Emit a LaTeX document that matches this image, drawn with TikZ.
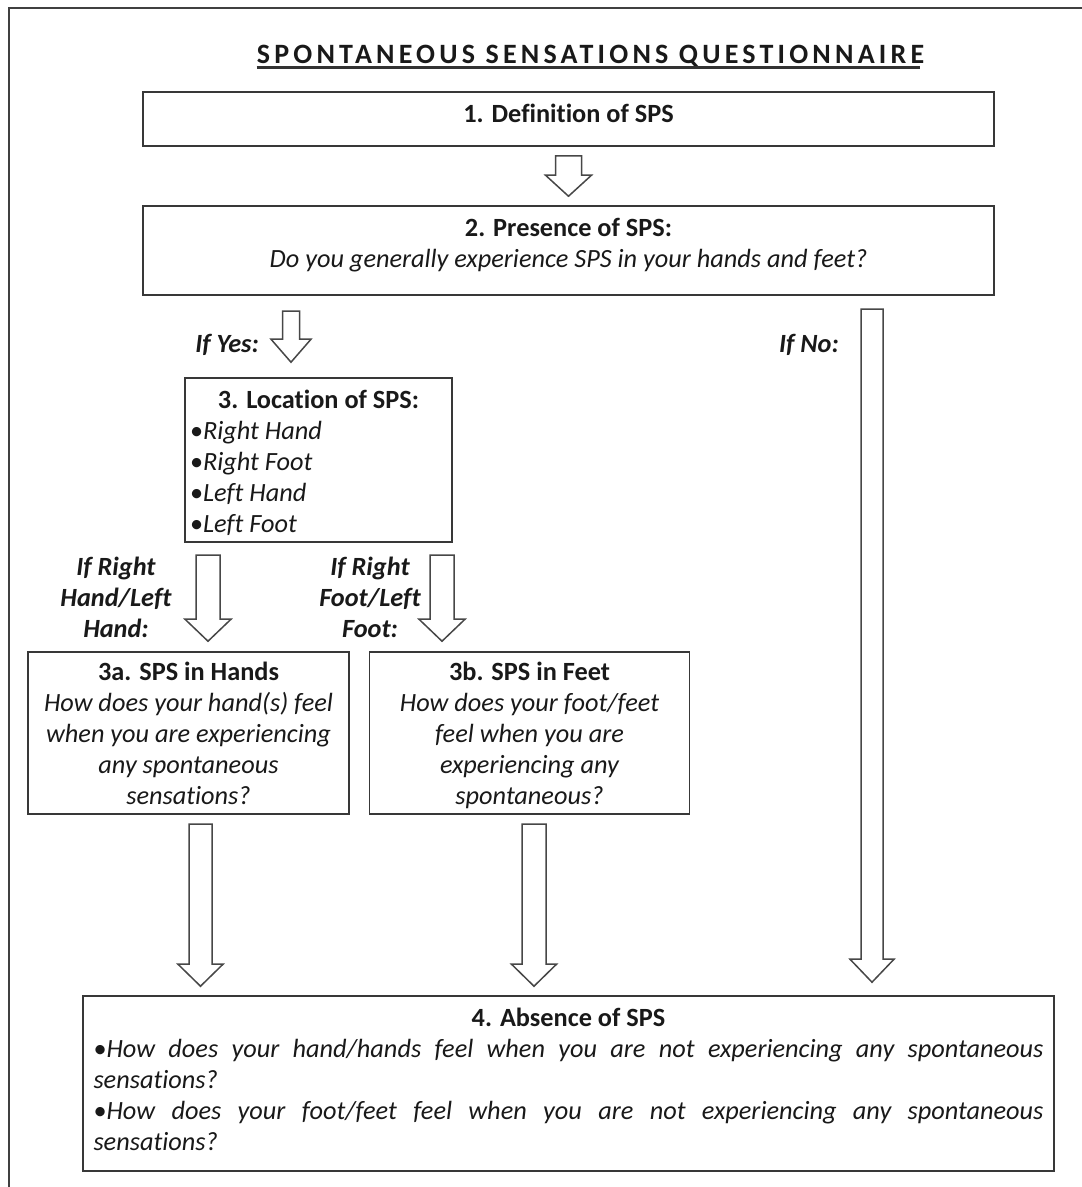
\documentclass[tikz,border=0pt]{standalone}
\usepackage{fontspec}
\setmainfont{Carlito}[Ligatures=NoCommon]
\usetikzlibrary{calc}
\newcommand\bodysize{\fontsize{26.3pt}{31pt}\selectfont}
\newcommand\bxt[3]{\parbox[c][#2pt][t]{#1pt}{#3}}
\newcommand\blockarrow[5]{%
  \draw[blk] let \p1=(#1), \p2=(#2) in
    (\x1-#3pt,\y1) -- (\x1+#3pt,\y1) -- (\x1+#3pt,\y2+#5pt) -- (\x1+#4pt,\y2+#5pt)
    -- (\x1,\y2) -- (\x1-#4pt,\y2+#5pt) -- (\x1-#3pt,\y2+#5pt) -- cycle;}
\tikzset{
  box/.style={draw=black!78, line width=1.6pt, inner sep=0pt, fill=white},
  blk/.style={draw=black!72, line width=1.5pt, fill=white, line join=miter},
  lbl/.style={font=\bodysize\bfseries\itshape, align=center, inner sep=0pt},
  frame/.style={draw=black!75, line width=2pt},
}
\begin{document}
\begin{tikzpicture}[x=1pt,y=-1pt, every node/.style={text=black!90, font=\bodysize}]
\useasboundingbox (0,0) rectangle (1082,1187);
\draw[frame] (9,1195) -- (9,8) -- (1090,8);

% title
\node[inner sep=0pt, anchor=base, font=\fontsize{28pt}{32pt}\selectfont\bfseries\addfontfeatures{LetterSpace=15}] (tt) at (590.5,63) {SPONTANEOUS SENSATIONS QUESTIONNAIRE};
\draw[line width=2.4pt, draw=black!80] ($(tt.base west)+(0,4.5)$) -- ($(tt.base east)+(-4.2,4.5)$);

% boxes
\node[box] (b1) at (568.5,119) {\bxt{851}{54}{\centering\rule{0pt}{30pt}\textbf{1. Definition of SPS}}};
\node[box] (b2) at (568.5,250.5) {\bxt{851}{89}{\centering\rule{0pt}{30pt}\textbf{2. Presence of SPS:}\\ {\itshape Do you generally experience SPS in your hands and feet?}}};
\node[box, inner xsep=5pt] (b3) at (318.5,460) {\bxt{257}{164}{\raggedright\rule{0pt}{30pt}\makebox[\linewidth]{\bfseries 3. Location of SPS:}\\
 \textbullet{\itshape Right Hand}\\ \textbullet{\itshape Right Foot}\\ \textbullet{\itshape Left Hand}\\ \textbullet{\itshape Left Foot}}};
\node[box] (b3a) at (188.5,733) {\bxt{321}{162}{\centering\rule{0pt}{28pt}\textbf{3a. SPS in Hands}\\ {\itshape How does your hand(s) feel\\ when you are experiencing\\ any spontaneous\\ sensations?}}};
\node[box] (b3b) at (529.5,733) {\bxt{320}{162}{\centering\rule{0pt}{28pt}\textbf{3b. SPS in Feet}\\ {\itshape How does your foot/feet\\ feel when you are\\ experiencing any\\ spontaneous?}}};
\node[box, inner xsep=10.5pt] (b4) at (568.5,1083.5) {\bxt{950}{175}{\raggedright\rule{0pt}{30pt}\makebox[\linewidth]{\bfseries 4. Absence of SPS}\\
 \makebox[\linewidth][s]{\textbullet{\itshape How does your hand/hands feel when you are not experiencing any spontaneous}}\\
 {\itshape sensations?}\\
 \makebox[\linewidth][s]{\textbullet{\itshape How does your foot/feet feel when you are not experiencing any spontaneous}}\\
 {\itshape sensations?}}};

% labels
\node[lbl, anchor=east] (lyes) at (259,345) {If Yes:};
\node[lbl, anchor=east] (lno) at (839,345) {If No:};
\node[lbl] (lrh) at (116,597) {If Right\\Hand/Left\\Hand:};
\node[lbl] (lrf) at (370,597) {If Right\\Foot/Left\\Foot:};

% arrow end points
\coordinate (a1s) at ($(b1.south)+(0,9)$);
\coordinate (a1e) at ($(b2.north)+(0,-9)$);
\coordinate (ays) at (291,311);
\coordinate (aye) at ($(ays |- b3.north)+(0,-15)$);
\coordinate (ans) at (872,309);
\coordinate (ane) at ($(ans |- b4.north)+(0,-13)$);
\coordinate (als) at (208,555);
\coordinate (ale) at ($(als |- b3a.north)+(0,-10)$);
\coordinate (ars) at (442,555);
\coordinate (are) at ($(ars |- b3b.north)+(0,-10)$);
\coordinate (ahs) at (200.5,824);
\coordinate (ahe) at ($(ahs |- b4.north)+(0,-9)$);
\coordinate (afs) at (534,824);
\coordinate (afe) at ($(afs |- b4.north)+(0,-9)$);

% block arrows
\blockarrow{a1s}{a1e}{13}{23}{21}
\blockarrow{ays}{aye}{8.5}{20}{23}
\blockarrow{ans}{ane}{11}{22}{23}
\blockarrow{als}{ale}{12}{23}{22}
\blockarrow{ars}{are}{12}{23}{22}
\blockarrow{ahs}{ahe}{11.5}{22.5}{22}
\blockarrow{afs}{afe}{12}{22.5}{22}
\end{tikzpicture}
\end{document}
